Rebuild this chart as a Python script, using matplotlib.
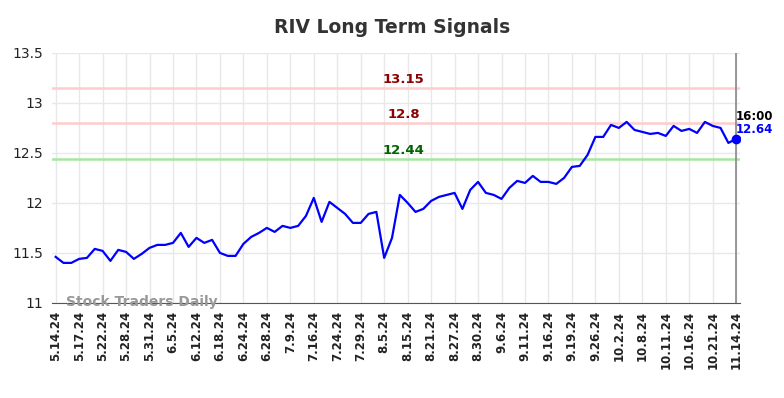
import matplotlib.pyplot as plt
import numpy as np

# Datos
fechas = ['5.14.24', '5.17.24', '5.22.24', '5.28.24', '5.31.24', '6.5.24', '6.12.24',
          '6.18.24', '6.24.24', '6.28.24', '7.9.24', '7.16.24', '7.24.24', '7.29.24',
          '8.5.24', '8.15.24', '8.21.24', '8.27.24', '8.30.24', '9.6.24', '9.11.24',
          '9.16.24', '9.19.24', '9.26.24', '10.2.24', '10.8.24', '10.11.24', '10.16.24',
          '10.21.24', '11.14.24']

precios = [11.46, 11.40, 11.40, 11.44, 11.45, 11.54, 11.52, 11.42, 11.53, 11.51,
           11.44, 11.49, 11.55, 11.58, 11.58, 11.60, 11.70, 11.56, 11.65, 11.60,
           11.63, 11.50, 11.47, 11.47, 11.59, 11.66, 11.70, 11.75, 11.71, 11.77,
           11.75, 11.77, 11.87, 12.05, 11.81, 12.01, 11.95, 11.89, 11.80, 11.80,
           11.89, 11.91, 11.45, 11.65, 12.08, 12.00, 11.91, 11.94, 12.02, 12.06,
           12.08, 12.10, 11.94, 12.13, 12.21, 12.10, 12.08, 12.04, 12.15, 12.22,
           12.20, 12.27, 12.21, 12.21, 12.19, 12.25, 12.36, 12.37, 12.48, 12.66,
           12.66, 12.78, 12.75, 12.81, 12.73, 12.71, 12.69, 12.70, 12.67, 12.77,
           12.72, 12.74, 12.70, 12.81, 12.77, 12.75, 12.60, 12.64]

resistencia_alta = 13.15
resistencia = 12.8
soporte = 12.44

x = np.arange(len(precios))
ticks = np.arange(0, len(precios), 3)

fig = plt.figure(figsize=(7.84, 3.98), dpi=100)
ax = fig.add_axes([0.066, 0.239, 0.878, 0.628])

ax.axhline(resistencia_alta, color='#ffcccc', lw=1.8, zorder=1)
ax.axhline(resistencia, color='#ffcccc', lw=1.8, zorder=1)
ax.axhline(soporte, color='#a6e6a0', lw=1.8, zorder=1)

ax.plot(x, precios, color='#0000ff', lw=1.6, zorder=3)
ax.plot(x[-1], precios[-1], 'o', color='#0000ff', ms=6, zorder=4)
ax.axvline(x[-1], color='#888888', lw=1.2, zorder=2)

xc = 44.5
ax.text(xc, resistencia_alta + 0.015, '13.15', color='#8b0000', fontsize=9.5,
        fontweight='bold', ha='center', va='bottom')
ax.text(xc, resistencia + 0.015, '12.8', color='#8b0000', fontsize=9.5,
        fontweight='bold', ha='center', va='bottom')
ax.text(xc, soporte + 0.015, '12.44', color='#006400', fontsize=9.5,
        fontweight='bold', ha='center', va='bottom')

ax.text(x[-1], 12.86, '16:00', color='black', fontsize=8.5, fontweight='bold',
        ha='left', va='center')
ax.text(x[-1], 12.73, '12.64', color='#0000ff', fontsize=8.5, fontweight='bold',
        ha='left', va='center')

ax.text(1.3, 10.94, 'Stock Traders Daily', color='#999999', fontsize=10,
        fontweight='bold', ha='left', va='bottom')

ax.set_xlim(-0.5, len(precios) - 0.5)
ax.set_ylim(11, 13.5)
ax.set_xticks(ticks)
ax.set_xticklabels(fechas, rotation=90, fontsize=8.5, fontweight='bold', color='#222222')
ax.set_yticks([11, 11.5, 12, 12.5, 13, 13.5])
ax.set_yticklabels(['11', '11.5', '12', '12.5', '13', '13.5'], fontsize=10, color='#222222')
ax.tick_params(length=0, pad=6)

ax.grid(True, color='#e8e8e8', lw=1)
ax.set_axisbelow(True)
for s in ['top', 'right', 'left']:
    ax.spines[s].set_visible(False)
ax.spines['bottom'].set_color('#555555')

fig.suptitle('RIV Long Term Signals', fontsize=13.5, fontweight='bold', color='#333333', y=0.955)

plt.savefig('out.png', dpi=100)
